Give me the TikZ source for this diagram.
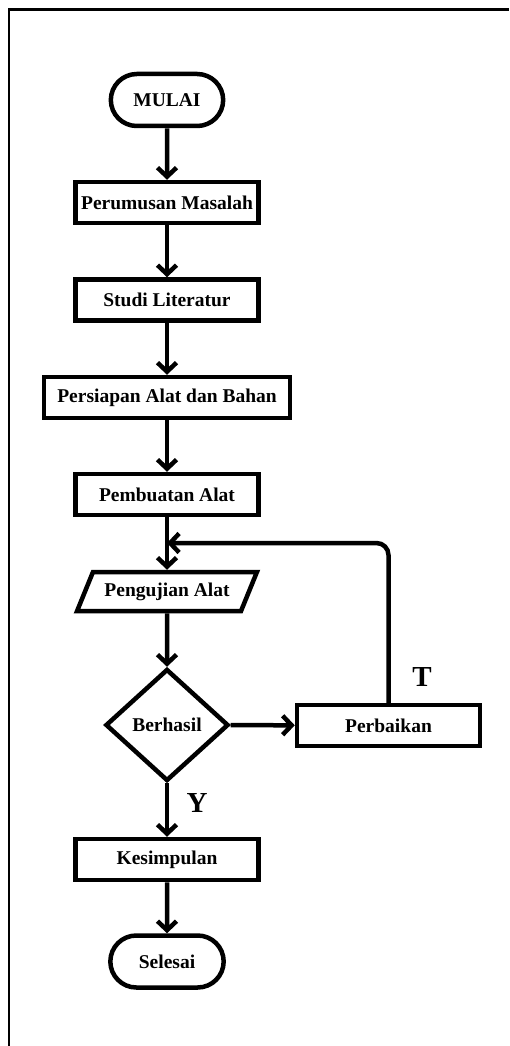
\documentclass[tikz,border=0pt]{standalone}
\usepackage{fontspec}
\setmainfont{Liberation Serif}
\usetikzlibrary{arrows.meta,shapes.misc,shapes.geometric}

\begin{document}
\begin{tikzpicture}[x=1pt,y=-1pt,>={Straight Barb[length=9pt,width=19pt]},
    every node/.style={font=\fontsize{19.5}{22}\selectfont\bfseries,line width=4.5pt},
    terminal/.style={draw,rounded rectangle,minimum width=119pt,minimum height=52pt},
    proses/.style={draw,rectangle,minimum width=183pt,minimum height=41pt},
    io/.style={draw,trapezium,trapezium left angle=60,trapezium right angle=120,
      trapezium stretches=true,minimum width=180pt,minimum height=39pt},
    keputusan/.style={draw,diamond,inner sep=0pt,minimum width=123pt,minimum height=112pt},
    label/.style={font=\fontsize{29}{30}\selectfont\bfseries},
    panah/.style={->,line width=4.5pt}]
      \useasboundingbox (0,0) rectangle (509,1046);
      \draw [line width=2.5pt] (9,1046) -- (9,9.5) -- (509,9.5);
      \node [terminal] (mulai) at (167,100) {MULAI};
      \node [proses] (rumus) at (167,202.5) {Perumusan Masalah};
      \node [proses] (studi) at (167,300) {Studi Literatur};
      \node [proses,minimum width=246pt] (siap) at (167,397.5) {Persiapan Alat dan Bahan};
      \node [proses] (buat) at (167,494.5) {Pembuatan Alat};
      \node [io] (uji) at (167,591.5) {Pengujian Alat};
      \node [keputusan] (hasil) at (167,725) {Berhasil};
      \node [proses] (baik) at (388.5,725.5) {Perbaikan};
      \node [proses] (simpul) at (167,859.5) {Kesimpulan};
      \node [terminal,minimum width=120pt] (selesai) at (167,961.5) {Selesai};
      \coordinate (balik) at (167,543);
      \draw [panah] (mulai) -- (rumus);
      \draw [panah] (rumus) -- (studi);
      \draw [panah] (studi) -- (siap);
      \draw [panah] (siap) -- (buat);
      \draw [panah] (buat) -- (uji);
      \draw [panah] (uji) -- (hasil);
      \draw [panah] (hasil) -- (baik);
      \draw [panah,rounded corners=12pt] (baik.north) |- (balik);
      \draw [panah] (hasil) -- (simpul);
      \draw [panah] (simpul) -- (selesai);
      \node [label] (t) at (422,677) {T};
      \node [label] (y) at (197,803) {Y};
    \end{tikzpicture}
\end{document}
